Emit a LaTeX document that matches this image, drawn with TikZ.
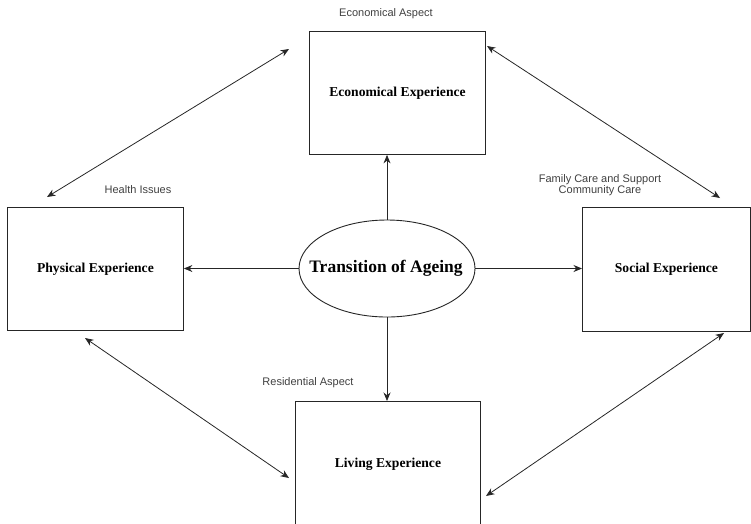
\documentclass[tikz,border=0pt]{standalone}
\usepackage{fontspec}
\setmainfont{Liberation Serif}
\newfontfamily\labelfont{Liberation Sans}
\usetikzlibrary{arrows.meta,shapes.geometric}
\begin{document}
\begin{tikzpicture}[x=1pt,y=-1pt,
  box/.style={draw=black!85,line width=0.9pt,inner sep=0pt,anchor=north west},
  boxtext/.style={font=\fontsize{13.6}{15}\selectfont\bfseries},
  note/.style={font=\labelfont\fontsize{11}{13}\selectfont,text=black!75,align=center},
  conn/.style={draw=black!85,line width=0.8pt,-{Stealth[length=8.5pt,width=7pt]}},
  dconn/.style={draw=black!85,line width=0.8pt,{Stealth[length=8.5pt,width=7pt]}-{Stealth[length=8.5pt,width=7pt]}}]
\useasboundingbox (0,0) rectangle (751,523);
% boxes
\node[box,minimum width=176pt,minimum height=123pt] (eco) at (309,31) {};
\node[box,minimum width=176pt,minimum height=123pt] (phy) at (7,207) {};
\node[box,minimum width=168pt,minimum height=124pt] (soc) at (582,207) {};
\node[box,minimum width=185pt,minimum height=125pt] (liv) at (295,401) {};
\node[boxtext] (ecot) at (eco.center) {Economical Experience};
\node[boxtext] (phyt) at (phy.center) {Physical Experience};
\node[boxtext] (soct) at (soc.center) {Social Experience};
\node[boxtext] (livt) at (liv.center) {Living Experience};
% ellipse
\node[draw=black!85,line width=0.9pt,ellipse,minimum width=176pt,minimum height=97pt,inner sep=0pt] (tra) at (387,268.5) {};
\node[font=\fontsize{17.5}{19}\selectfont\bfseries] (trat) at ([xshift=-1pt]tra.center) {Transition of Ageing};
% labels
\node[note] (l1) at (386,14) {Economical Aspect};
\node[note] (l2) at (138,190) {Health Issues};
\node[note] (l3) at (600,185.5) {Family Care and Support\\[-2pt]Community Care};
\node[note] (l4) at (308,383) {Residential Aspect};
% coordinates for diagonal connectors
\coordinate (a1) at (47,197);
\coordinate (a2) at (289,49);
\coordinate (b1) at (487,46);
\coordinate (b2) at (720,198);
\coordinate (c1) at (85,338);
\coordinate (c2) at (289,478);
\coordinate (d1) at (724,333);
\coordinate (d2) at (486,496);
% straight connectors
\draw[conn] (tra.north) -- (tra.north |- eco.south);
\draw[conn] (tra.west) -- (tra.west -| phy.east);
\draw[conn] (tra.east) -- (tra.east -| soc.west);
\draw[conn] (tra.south) -- (tra.south |- liv.north);
% double arrows
\draw[dconn] (a1) -- (a2);
\draw[dconn] (b1) -- (b2);
\draw[dconn] (c1) -- (c2);
\draw[dconn] (d1) -- (d2);
\end{tikzpicture}
\end{document}
